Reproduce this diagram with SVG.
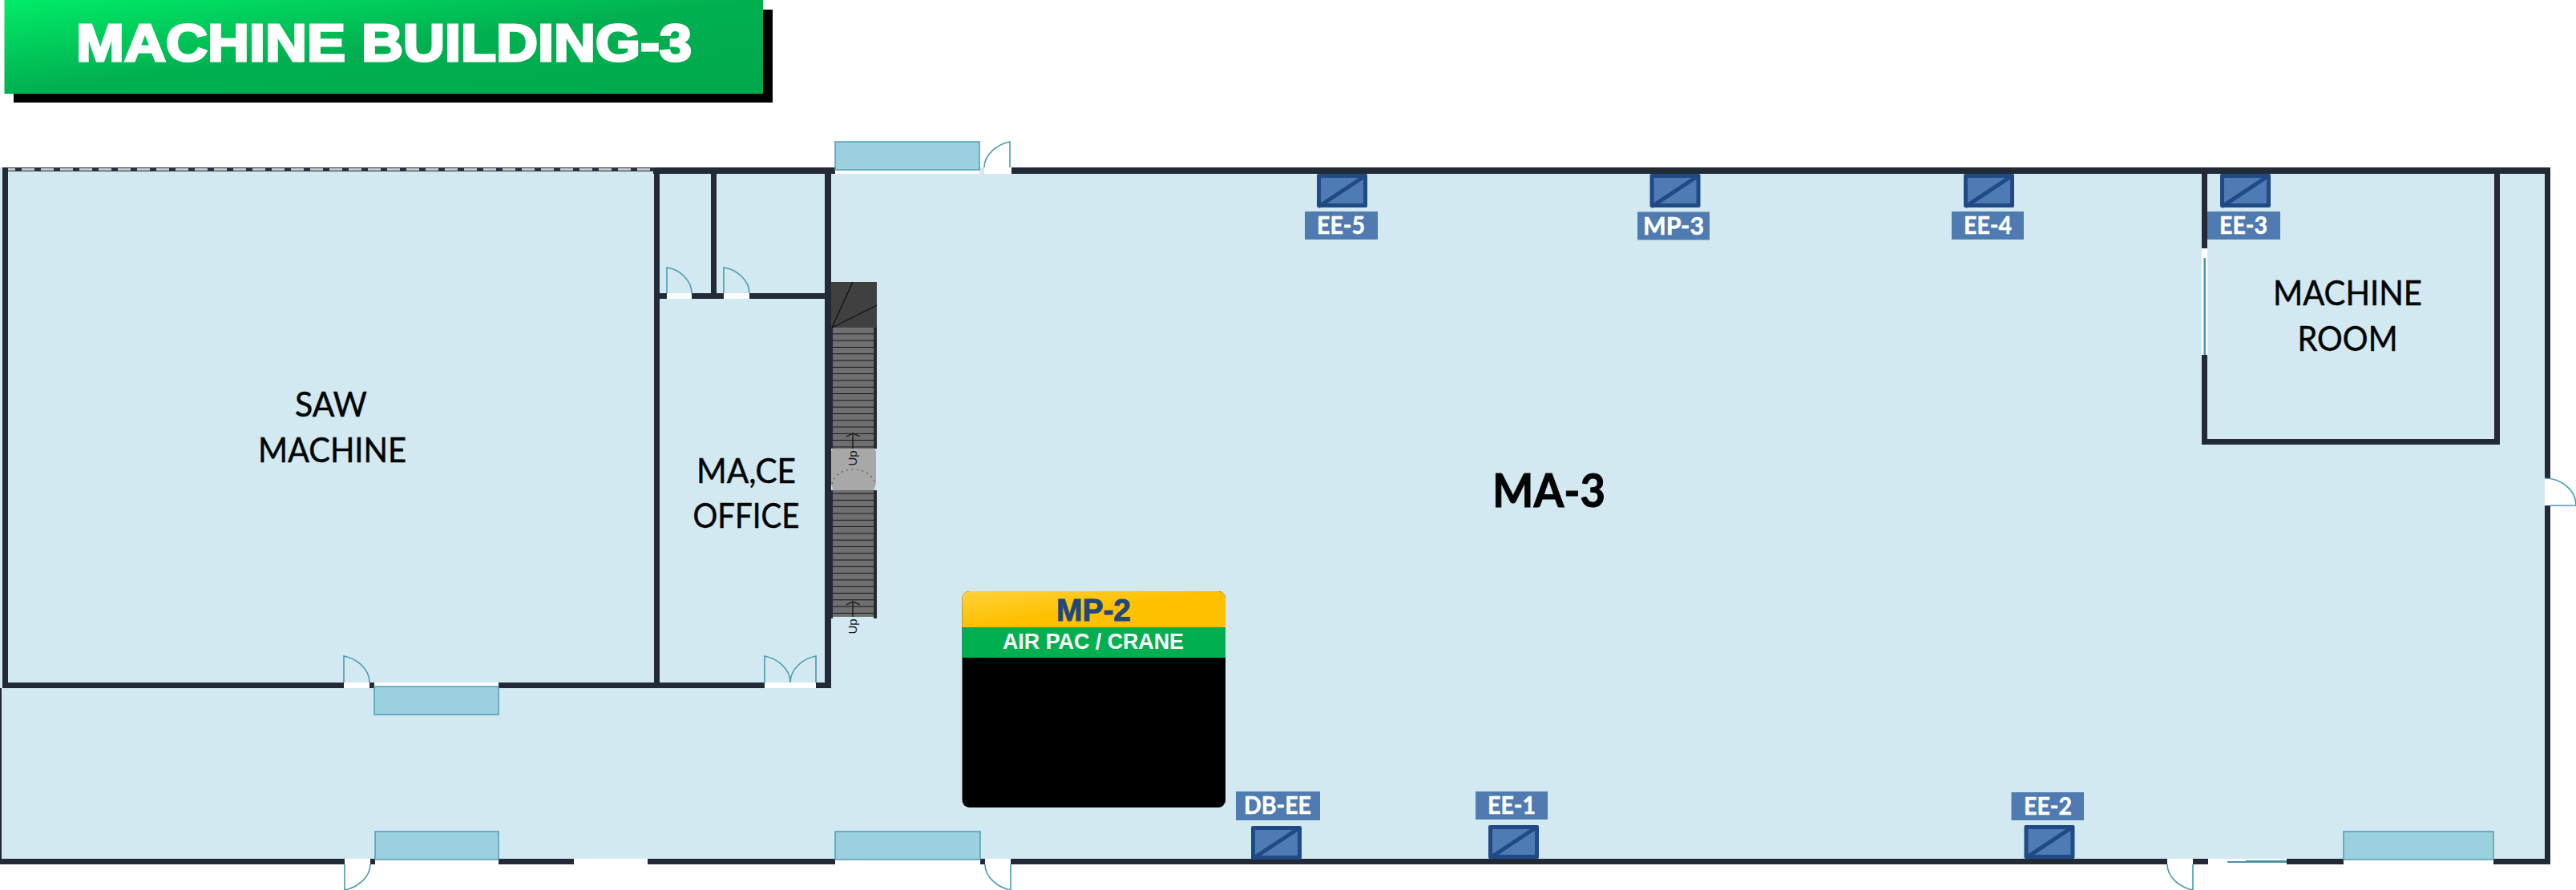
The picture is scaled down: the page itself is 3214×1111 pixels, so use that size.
<svg xmlns="http://www.w3.org/2000/svg" xmlns:xlink="http://www.w3.org/1999/xlink" width="3214" height="1111" viewBox="0 0 3214 1111">
<style>
text{font-family:"Liberation Sans",Arial,sans-serif}
.room{font-family:Lato,"Open Sans",sans-serif;font-size:43px;fill:#050505;text-anchor:middle;stroke:#050505;stroke-width:.5px}
.big{font-family:Lato,"Open Sans",sans-serif;font-size:57px;font-weight:700;fill:#050505;text-anchor:middle;stroke:#050505;stroke-width:1px}
.tag{font-family:Lato,"Open Sans",sans-serif;font-size:30px;font-weight:700;fill:#fff;text-anchor:middle;stroke:#fff;stroke-width:.5px}
.wall{fill:#222a38}
.gap{fill:#fff}
.win{fill:#9bd1de;stroke:#4e9fb1;stroke-width:1.5}
.door{fill:none;stroke:#4a9bb0;stroke-width:1.6}
.lbl{fill:#4f7bb0}
.rail{fill:#2a2a2a}
.fine{fill:none;stroke:#111;stroke-width:1.3}
.up{font-size:15px;fill:#111;text-anchor:middle}
</style>
<defs>
<linearGradient id="gGreen" x1="0" y1="0" x2="1" y2="1"><stop offset="0" stop-color="#00ec68"/><stop offset=".5" stop-color="#00b050"/><stop offset="1" stop-color="#00a84c"/></linearGradient>
<linearGradient id="gOrange" x1="0" y1="0" x2="1" y2="1"><stop offset="0" stop-color="#ffd23c"/><stop offset=".5" stop-color="#ffc000"/><stop offset="1" stop-color="#ffc000"/></linearGradient>
<pattern id="steps" patternUnits="userSpaceOnUse" x="1039" y="409" width="60" height="8.3"><rect width="60" height="8.3" fill="#6f6f6f"/><rect y="7.4" width="60" height="1" fill="#0c0c0c"/></pattern>
<g id="panel"><rect width="63" height="42" rx="2" fill="#1f4a85"/><rect x="5" y="5" width="53" height="32" fill="#4f7bb4"/><path d="M2 41 L61 2" stroke="#1f4a85" stroke-width="5" fill="none"/></g>
</defs>

<g id="title"><rect x="17" y="12" width="947" height="116" fill="#000"/><rect x="5.500" y="0" width="946.500" height="117" fill="url(#gGreen)"/><text x="479" y="76" font-size="65" font-weight="700" fill="#fff" text-anchor="middle" textLength="768" lengthAdjust="spacingAndGlyphs" stroke="#fff" stroke-width="3">MACHINE BUILDING-3</text></g>

<g id="floor"><rect x="0" y="209" width="3182" height="870" fill="#d2e9f1"/></g>

<g id="walls">
<rect x="3" y="209" width="812" height="5" fill="#2a3240"/>
<path d="M3 211.500H815" stroke="#c4c7ca" stroke-width="3" stroke-dasharray="16 8" fill="none"/>
<rect class="wall" x="815" y="209" width="227" height="8"/>
<rect class="wall" x="1262" y="209" width="1920" height="8"/>
<rect class="wall" x="3" y="209" width="7" height="650"/>
<rect class="wall" x="816" y="209" width="7" height="650"/>
<rect class="wall" x="887" y="209" width="7" height="164"/>
<rect class="wall" x="1029" y="209" width="8" height="650"/>
<rect class="wall" x="816" y="366" width="221" height="7"/>
<rect class="wall" x="3" y="852" width="1034" height="7"/>
<rect class="wall" x="0" y="859" width="2" height="220"/>
<rect class="wall" x="2" y="1072" width="3180" height="7"/>
<rect class="wall" x="3175" y="209" width="7" height="870"/>
<rect class="wall" x="2747" y="209" width="7" height="346"/>
<rect class="wall" x="3112" y="209" width="7" height="346"/>
<rect class="wall" x="2747" y="548" width="372" height="7"/>
</g>

<g id="openings">
<rect class="gap" x="832" y="366" width="31" height="7"/><path class="door" d="M832 366V334C848 336 863 350 863 366"/>
<rect class="gap" x="903" y="366" width="32" height="7"/><path class="door" d="M903 366V334C919 336 935 350 935 366"/>
<rect class="gap" x="429" y="852" width="32" height="7"/><path class="door" d="M429 852V819C445 822 461 835 461 852"/>
<rect class="gap" x="954" y="852" width="64" height="7"/><path class="door" d="M954 852V819C970 822 986 835 986 852C986 835 1002 822 1018 819V852"/>
<rect class="gap" x="467" y="852" width="155" height="7"/><rect class="win" x="467" y="857" width="155" height="35"/>
<rect class="gap" x="1042" y="209" width="180" height="8"/><rect class="win" x="1042" y="177" width="180" height="35"/>
<rect class="gap" x="1228" y="209" width="34" height="8"/><path class="door" d="M1260 209V177C1244 180 1228 193 1228 209"/>
<rect class="gap" x="468" y="1072" width="154" height="7"/><rect class="win" x="468" y="1038" width="154" height="35"/>
<rect class="gap" x="430" y="1072" width="32" height="7"/><path class="door" d="M430 1079V1111C446 1108 462 1095 462 1079"/>
<rect class="gap" x="716" y="1072" width="92" height="7"/>
<rect class="gap" x="1042" y="1072" width="181" height="7"/><rect class="win" x="1042" y="1038" width="181" height="35"/>
<rect class="gap" x="1229" y="1072" width="32" height="7"/><path class="door" d="M1261 1079V1111C1245 1108 1229 1095 1229 1079"/>
<rect class="gap" x="2704" y="1072" width="32" height="7"/><path class="door" d="M2736 1079V1111C2720 1108 2704 1095 2704 1079"/>
<rect class="gap" x="2755" y="1072" width="98" height="7"/><rect x="2779" y="1075" width="74" height="2" fill="#4a93a5"/><rect x="2802" y="1074" width="51" height="2" fill="#4a93a5"/>
<rect class="gap" x="2924" y="1072" width="187" height="7"/><rect class="win" x="2924" y="1038" width="187" height="35"/>
<rect class="gap" x="2747" y="310" width="7" height="133"/><rect x="2749.500" y="322" width="2.500" height="121" fill="#4a93a5"/>
<rect class="gap" x="3175" y="597" width="7" height="34"/><path class="door" d="M3175 597C3196 597 3214 612 3214 631H3182"/>
</g>

<g id="stairs">
<path d="M1037 352H1094V409H1037Z" fill="#404040"/>
<path class="fine" d="M1038 409L1064 352M1038 409L1094 381"/>
<rect x="1039" y="409" width="51" height="151" fill="url(#steps)"/>
<rect x="1039" y="612" width="51" height="158" fill="url(#steps)"/>
<rect class="rail" x="1090" y="409" width="4" height="151"/>
<rect class="rail" x="1090" y="612" width="4" height="160"/>
<rect class="wall" x="1037" y="612" width="2" height="160"/>
<rect class="wall" x="1037" y="409" width="2" height="151"/>
<path d="M1039 560H1090L1093 563V604L1090 612H1039L1037 604V563Z" fill="#a8a8a8"/>
<path d="M1038 604C1042 592 1052 586 1064 586C1078 586 1088 592 1092 604" fill="none" stroke="#444" stroke-width="1.200" stroke-dasharray="1.500 5"/>
<path class="fine" d="M1064 560V541M1056 545L1064 541L1073 545M1064 770V751M1056 755L1064 751L1073 755"/>
<text class="up" transform="translate(1069 572) rotate(-90)">Up</text>
<text class="up" transform="translate(1069 782) rotate(-90)">Up</text>
</g>

<g id="room-saw"><text class="room" x="413" y="520" textLength="90" lengthAdjust="spacingAndGlyphs">SAW</text><text class="room" x="414.500" y="577" textLength="185" lengthAdjust="spacingAndGlyphs">MACHINE</text></g>
<g id="room-office"><text class="room" x="931" y="603" textLength="124" lengthAdjust="spacingAndGlyphs">MA,CE</text><text class="room" x="931" y="659" textLength="133" lengthAdjust="spacingAndGlyphs">OFFICE</text></g>
<g id="room-machine"><text class="room" x="2929" y="381" textLength="186" lengthAdjust="spacingAndGlyphs">MACHINE</text><text class="room" x="2929" y="438" textLength="125" lengthAdjust="spacingAndGlyphs">ROOM</text></g>
<g id="room-ma3"><text class="big" x="1932.500" y="633" textLength="141" lengthAdjust="spacingAndGlyphs">MA-3</text></g>

<g id="mp-2">
<rect x="1200.500" y="738" width="328.500" height="270" rx="9" fill="#000"/>
<path d="M1200.500 783V747a9 9 0 0 1 9-9H1520a9 9 0 0 1 9 9V783Z" fill="url(#gOrange)"/>
<rect x="1200.500" y="783" width="328.500" height="38" fill="#00b050"/>
<text x="1364.500" y="775" font-size="39" font-weight="700" fill="#1f497d" stroke="#1f497d" stroke-width="1" text-anchor="middle" textLength="93" lengthAdjust="spacingAndGlyphs">MP-2</text>
<text x="1364" y="810" font-size="27" font-weight="700" fill="#fff" text-anchor="middle" textLength="226" lengthAdjust="spacingAndGlyphs">AIR PAC / CRANE</text>
</g>

<g id="panel-ee5"><use xlink:href="#panel" href="#panel" x="1643" y="217"/><rect class="lbl" x="1628" y="264" width="91" height="35"/><text class="tag" x="1673" y="292" textLength="60" lengthAdjust="spacingAndGlyphs">EE-5</text></g>
<g id="panel-mp3"><use xlink:href="#panel" href="#panel" x="2058.500" y="217"/><rect class="lbl" x="2043" y="264.500" width="90" height="35"/><text class="tag" x="2088" y="292.500" textLength="76" lengthAdjust="spacingAndGlyphs">MP-3</text></g>
<g id="panel-ee4"><use xlink:href="#panel" href="#panel" x="2450" y="217"/><rect class="lbl" x="2435" y="264" width="90" height="35"/><text class="tag" x="2480" y="292" textLength="60" lengthAdjust="spacingAndGlyphs">EE-4</text></g>
<g id="panel-ee3"><use xlink:href="#panel" href="#panel" x="2770" y="217"/><rect class="lbl" x="2754" y="264" width="91" height="35"/><text class="tag" x="2799" y="292" textLength="60" lengthAdjust="spacingAndGlyphs">EE-3</text></g>
<g id="panel-dbee"><rect class="lbl" x="1542" y="988" width="105" height="36"/><text class="tag" x="1594" y="1016" textLength="84" lengthAdjust="spacingAndGlyphs">DB-EE</text><use xlink:href="#panel" href="#panel" x="1561" y="1031"/></g>
<g id="panel-ee1"><rect class="lbl" x="1841" y="988" width="90" height="35"/><text class="tag" x="1886" y="1016" textLength="60" lengthAdjust="spacingAndGlyphs">EE-1</text><use xlink:href="#panel" href="#panel" x="1857" y="1030"/></g>
<g id="panel-ee2"><rect class="lbl" x="2509.500" y="989" width="90.500" height="35"/><text class="tag" x="2555" y="1017" textLength="60" lengthAdjust="spacingAndGlyphs">EE-2</text><use xlink:href="#panel" href="#panel" x="2525.500" y="1030"/></g>
</svg>
